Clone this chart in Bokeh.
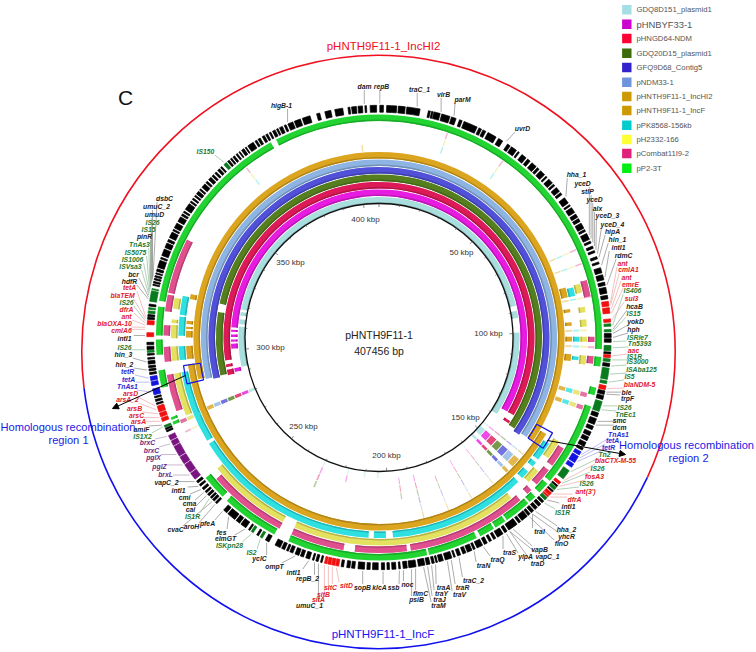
from math import sin, cos, radians, pi
from bokeh.plotting import figure
from bokeh.models import Arrow, NormalHead
from bokeh.core.properties import value
from bokeh.embed import file_html
from bokeh.resources import INLINE

# ---------- data ----------
genome_bp = 407456
legend_names = ["GDQ8D151_plasmid1", "pHNBYF33-1", "pHNGD64-NDM", "GDQ20D15_plasmid1", "GFQ9D68_Contig5", "pNDM33-1",
                "pHNTH9F11-1_IncHI2", "pHNTH9F11-1_IncF", "pPK8568-156kb", "pH2332-166", "pCombat11I9-2", "pP2-3T"]
legend_colors = ["#A5DEE4", "#CC00CC", "#FF0033", "#3B6B0B", "#3322CC", "#6F94DE",
                 "#CC9900", "#CC9900", "#00CCCC", "#FFFF33", "#E0217A", "#00EE11"]
ring_colors = ["#A8DEDE", "#E81CE0", "#DC1A58", "#557F1E", "#5050D8", "#8DB4E2",
               "#DBA520", "#DBA520", "#2FE0E0", "#E4E060", "#E0508F", "#22D432"]

# BLAST hit blocks per ring, in degrees clockwise from the map origin (values >360 wrap past the origin)
teal = [(258, 274.5), (275.5, 277.5), (279, 280.5), (281.5, 437), (439, 442), (448, 483)]
magenta = [(274, 480), (272.2, 273), (270.2, 271.2), (268.4, 269.2), (265.6, 267.6), (256.5, 258)]
crimson = [(261.5, 480), (259, 260), (256, 258), (482.5, 483.5)]
olive = [(256.5, 279), (282, 483.9)]
blue = [(256, 484.8)]
ltblue = [(256.5, 484)]
gold_hi2 = [(257, 484)]
gold_f = [(120, 262), (281.5, 283), (274, 275), (270, 272), (272.5, 273.2), (263.5, 267.5), (75, 78), (81.5, 82.5), (85.5, 86.5), (89.8, 91.2), (95, 97)]
cyan = [(122, 127.5), (128.5, 130), (132, 134.5), (136, 176), (178, 181.5), (183, 238), (239, 260),
        (263.5, 267.5), (270.5, 276), (276.5, 282), (75.5, 78), (89.8, 91.2), (95.5, 96.5)]
yellow = [(120, 125.5), (130, 134), (140.5, 204), (207.5, 231), (248, 260),
          (263.5, 267.5), (269.8, 273.5), (274, 275), (278, 281), (75, 77.5), (81.5, 83), (85, 87), (89.8, 91.2), (95, 97.5)]
pink = [(121, 126.5), (128, 133), (135, 136.5), (139, 171.5), (172.5, 186.5), (189.5, 204), (207.5, 229), (250, 260),
        (282, 297), (277, 281.5), (270.5, 273.3), (263.5, 267.5), (74.5, 79), (89.8, 91.2), (95, 97)]
green = [(279.5, 331), (332.5, 453), (270.5, 278), (265.5, 269.5), (257, 261.5), (95, 97.5), (103, 105), (108, 130), (131, 134),
         (135.5, 137.5), (138, 145), (145.5, 148.5), (149, 153), (154, 167), (167.5, 204), (208, 223), (224.5, 231), (247, 247.8), (248.3, 249)]
ring_blocks = [teal, magenta, crimson, olive, blue, ltblue, gold_hi2, gold_f, cyan, yellow, pink, green]

# faint thin hits: centre degree, width, first ring, last ring
strip_deg = [132.5, 136.2, 129, 142, 247.6, 203.5, 193, 186, 180.5, 172, 166, 158, 150, 244, 247, 66, 70, 105.5, 109, 18.5, 355, 35, 322, 92.6, 79, 88]
strip_width = [3.0, 1.0, 0.5, 0.3, 1.2, 0.6, 0.5, 0.6, 0.7, 0.4, 0.4, 0.3, 0.3, 0.5, 1.0, 0.4, 0.4, 1.2, 1.2, 0.4, 0.4, 0.4, 0.4, 0.6, 0.5, 0.6]
strip_first = [0, 0, 0, 0, 0, 0, 0, 0, 0, 1, 1, 2, 1, 7, 8, 7, 7, 7, 7, 8, 7, 8, 8, 7, 7, 7]
strip_last = [6, 6, 6, 6, 6, 3, 1, 0, 0, 3, 6, 6, 6, 10, 10, 10, 10, 10, 10, 10, 7, 10, 10, 10, 10, 9]

black_genes = [(0.2, 1.1), (1.9, 4.4), (4.8, 6.5), (6.9, 10.2), (12.3, 12.8), (13.1, 13.5), (13.7, 15.3), (15.7, 17.8), (18.2, 19.4), (20.3, 21),
               (21.5, 25), (25.5, 26.2), (26.6, 27.4), (28, 30.3), (31, 32.2), (33.6, 34.4), (34.8, 36.3), (36.8, 37.2), (38, 39.3), (39.8, 40.6),
               (41.2, 42.6), (43, 43.6), (44.1, 45.5), (46, 46.4), (47, 48.3), (48.7, 49.2), (49.8, 51), (51.4, 52), (53, 54.6), (55.1, 55.5),
               (56, 57.4), (57.9, 58.8), (59.2, 60), (60.5, 61.9), (62.3, 62.8), (63.4, 65), (65.5, 66), (66.8, 67.4), (68, 68.5), (69.6, 70.2),
               (71, 71.5), (72.5, 73.8), (74.3, 75.6), (76.2, 77), (77.5, 79), (79.5, 80.4), (89, 90), (90.3, 91.2), (93.6, 94.1), (96.4, 97.2),
               (103.3, 104.2), (104.5, 105.5), (109, 110), (110.5, 112), (112.5, 113.4), (114, 115), (115.4, 116.4), (116.9, 118), (118.4, 119),
               (129.6, 130), (131.3, 131.7), (134.8, 135.4), (135.8, 136.6), (137, 137.8), (138.2, 139), (139.4, 140), (140.3, 142), (142.4, 143),
               (143.5, 146), (146.5, 147.2), (147.7, 149.3), (149.8, 150.4), (151, 151.6), (152.2, 153), (153.5, 155), (155.5, 156), (156.4, 157.6),
               (158, 158.8), (159.4, 160.2), (160.8, 161.2), (161.7, 163.4), (163.9, 165), (165.4, 165.8), (166.2, 166.8), (167.3, 168.2), (168.6, 170.2),
               (170.8, 172.6), (173, 174), (174.7, 175.1), (175.8, 176.8), (177.4, 178), (178.6, 179.4), (180.2, 181.6), (182.2, 183), (183.6, 185.2),
               (186, 186.8), (187.2, 188), (188.8, 189.4), (194.2, 194.6), (195.2, 195.8), (196.3, 196.7), (197.4, 198.4), (199, 199.8), (200.2, 201.2),
               (201.8, 202.6), (203, 203.5), (204, 204.8), (205.2, 206.6), (208.3, 209.3), (211.3, 211.8), (213.8, 214.2), (215, 216.5), (216.9, 218),
               (218.4, 220.6), (221, 222), (224.3, 224.8), (225.2, 225.8), (226.1, 226.6), (227, 227.6), (228, 228.5), (229, 229.6), (230.2, 230.7),
               (231.2, 231.8), (246, 246.4), (246.6, 247), (253.2, 253.6), (254, 254.5), (254.9, 255.3), (260.8, 261.3), (261.7, 262.2), (262.5, 263),
               (263.4, 264.2), (264.6, 265), (265.6, 266), (267, 267.8), (268.2, 268.8), (274.5, 275), (275.2, 275.7), (277.8, 278.3), (283, 283.3),
               (283.6, 284), (284.4, 284.8), (285.1, 285.5), (285.9, 286.2), (286.6, 287.2), (287.6, 289.4), (289.8, 290.2), (290.7, 292.4), (292.8, 294),
               (294.4, 295), (295.5, 297), (297.4, 297.8), (298.2, 299.5), (300, 301.3), (301.7, 302.2), (302.6, 303), (303.5, 305.2), (305.6, 306),
               (306.5, 306.9), (307.4, 307.8), (308.2, 309), (309.4, 309.8), (310.3, 311.4), (311.8, 312.3), (312.8, 313.6), (314, 314.5), (315, 315.5),
               (316, 316.6), (317, 317.4), (319.3, 319.8), (320.2, 320.6), (321, 321.5), (322, 322.4), (322.9, 323.2), (323.7, 324.4), (324.8, 325.1),
               (325.6, 327.2), (327.7, 328.2), (328.6, 329.2), (329.8, 330.4), (330.8, 331.3), (331.8, 332.2), (332.7, 333.4), (333.8, 334.2), (334.6, 335.4),
               (335.9, 336.4), (336.9, 338.2), (338.6, 340.2), (340.7, 342.7), (344.4, 345.2), (346.5, 348), (349, 351), (352.3, 352.8), (353.2, 354.4),
               (354.8, 355.9), (356.5, 356.9), (357.8, 359.4)]
red_genes = [(81, 82.2), (82.6, 84), (85.4, 86.2), (94.3, 95), (102, 103), (128.5, 129.2), (132, 132.8), (133, 133.4), (190, 190.8), (191, 191.8),
             (192, 192.8), (193, 193.6), (248.8, 249.7), (250, 251), (251.3, 252.8), (270.2, 271.2), (273.2, 274.2)]
green_genes = [(86.6, 87.2), (88, 88.6), (92, 93.3), (95.3, 96), (97.6, 100.4), (100.8, 101.5), (106, 108.6), (125, 127.5), (130.2, 131), (133.6, 134.4),
               (210.2, 210.8), (212.8, 213.4), (247.2, 247.7), (266.3, 266.8), (276, 276.6), (277, 277.4), (279, 281.6), (281.9, 282.2), (318.1, 318.9)]
blue_genes = [(119.5, 120.4), (120.8, 122.6), (123, 124), (255.7, 257.2), (258, 259), (259.3, 260.3)]
purple_genes = [(232.4, 234.2), (234.5, 236.8), (237.1, 239), (239.3, 242), (242.3, 243.5), (243.8, 245)]

gene_names = ["IS150", "higB-1", "dam", "repB", "traC_1", "virB", "parM", "uvrD",
              "hha_1", "yceD", "stlP", "yceD", "alx", "yceD_3", "yceD_4", "hipA", "hin_1", "intI1", "rdmC",
              "ant", "cmlA1", "ant", "emrE", "IS406", "sul3", "hcaB", "IS15", "yokD", "hph", "ISRle7", "Tn5393",
              "aac", "IS1R", "IS3000", "ISAba125", "IS5", "blaNDM-5", "ble", "trpF", "IS26", "TnEc1", "smc", "dcm",
              "TnAs1", "tetA", "tetR", "Tn2", "blaCTX-M-55", "IS26", "fosA3", "IS26", "ant(3')", "dfrA", "intI1", "IS1R",
              "hha_2", "yhcR", "finO", "traI", "vapB", "vapC_1", "ylpA", "traD", "traS", "traQ", "traN", "traC_2", "traR", "traV",
              "traA", "traY", "traJ", "traM", "flmC", "psiB", "noc", "ssb", "klcA", "sopB", "sitD", "sitC", "sitB", "sitA", "umuC_1",
              "repB_2", "intI1", "ompT", "yclC", "IS2", "ISKpn28", "elmGT", "fes", "pfeA", "aroH", "cvaC", "IS1R", "cai", "cma", "cmi", "intI1", "vapC_2",
              "brxL", "pglZ", "pglX", "brxC", "brxC", "IS1X2", "amiF", "arsA", "arsC", "arsB", "arsA_2", "arsD", "TnAs1", "tetA", "tetR", "hin_2", "hin_3",
              "IS26", "intI1", "cmlA6", "blaOXA-10", "ant", "dfrA", "IS26", "blaTEM", "tetA", "hdfR", "bcr", "ISVsa3", "IS1006", "IS5075", "TnAs3", "pinR",
              "IS15", "IS26", "umuD", "umuC_2", "dsbC"]
gene_deg = [318.5, 337, 356.4, 0.2, 9.4, 15.4, 18.7, 33,
            53, 64, 65, 66, 67, 68, 69, 70, 72, 75, 77,
            81.5, 82, 83, 84, 87, 85.5, 88, 88.5, 89, 90, 91, 92.5,
            94.5, 95.5, 97, 99, 101, 102.6, 103.5, 104, 107, 108, 111, 112,
            120, 121, 122, 125, 127.6, 128.5, 129.5, 130.5, 132, 133, 134, 135,
            138, 139, 140, 139, 145, 146, 147, 146, 148, 153.5, 156, 160, 162, 163,
            166, 167, 168, 169, 171, 172, 174, 175, 179, 184, 190.5, 191.5, 192.5, 193.5, 195,
            196, 197.5, 201, 208.7, 210.5, 213, 215, 220, 222, 224.5, 225.5, 226.5, 227.5, 228.5, 229.5, 230.5, 232,
            234, 237, 240, 243, 245, 247.5, 248, 249, 250, 251, 252, 253, 256.5, 259, 260, 262, 264,
            267, 270.5, 272, 272.5, 273, 273.5, 274, 274.5, 275, 279.5, 280, 280.5, 281, 281.5, 282, 282.5,
            283, 283.5, 284, 284.5, 285]
label_xy = [(205, 151), (281, 105), (364, 86), (381, 86), (419, 89), (443, 94), (462, 99), (522, 128),
            (576, 174), (582, 183), (587, 191), (594, 199), (597, 208), (607, 215), (612, 224), (612, 231), (617, 239), (618, 247), (623, 255),
            (622, 263), (628, 269), (626, 277), (630, 284), (632, 290), (631, 298), (634, 306), (633, 313), (635, 321), (633, 329), (637, 337), (639, 343),
            (633, 350), (634, 356), (637, 361), (641, 369), (629, 376), (639, 384), (626, 392), (627, 398), (624, 407), (625, 414), (619, 420), (619, 427),
            (618, 434), (612, 440), (608, 447), (604, 454), (615, 460), (597, 468), (594, 476), (586, 483), (585, 491), (574, 499), (568, 506), (562, 512),
            (566, 529), (566, 536), (561, 543), (539, 531), (539, 549), (547, 556), (525, 556), (537, 563), (509, 552), (497, 559), (483, 565), (473, 580), (462, 587), (459, 594),
            (443, 587), (441, 593), (439, 599), (438, 605), (420, 593), (416, 599), (407, 584), (393, 587), (379, 587), (362, 587), (346, 585), (330, 587), (323, 594), (318, 599), (309, 605),
            (307, 578), (293, 572), (274, 566), (259, 558), (251, 552), (229, 545), (225, 538), (221, 532), (207, 523), (191, 526), (175, 529), (192, 516), (190, 509), (189, 503), (184, 497), (178, 490), (166, 482),
            (165, 474), (159, 466), (153, 457), (151, 450), (147, 442), (142, 436), (141, 429), (138, 421), (136, 415), (134, 408), (127, 399), (130, 393), (127, 386), (128, 379), (127, 371), (124, 364), (123, 354),
            (124, 347), (124, 338), (121, 330), (114, 323), (126, 316), (126, 309), (126, 302), (122, 295), (129, 287), (129, 281), (133, 274), (130, 266), (132, 259), (135, 252), (139, 244), (144, 236),
            (148, 229), (152, 222), (154, 214), (156, 206), (164, 198)]
green_names = {"IS150", "IS406", "IS15", "ISRle7", "Tn5393", "IS1R", "IS3000", "ISAba125", "IS5", "IS26", "TnEc1", "Tn2", "IS2", "ISKpn28", "IS1X2",
               "ISVsa3", "IS1006", "IS5075", "TnAs3"}
red_names = {"ant", "cmlA1", "emrE", "sul3", "aac", "blaNDM-5", "blaCTX-M-55", "fosA3", "ant(3')", "dfrA", "sitD", "sitC", "sitB", "sitA",
             "arsA", "arsC", "arsB", "arsA_2", "arsD", "cmlA6", "blaOXA-10", "blaTEM"}
blue_names = {"TnAs1", "tetR"}
purple_names = {"brxL", "pglZ", "pglX", "brxC"}

kbp_ticks = [50, 100, 150, 200, 250, 300, 350, 400]
kbp_label_xy = [(461, 252), (488, 333), (465, 417), (386, 455), (303, 426), (270, 347), (290, 262), (365, 219)]

# ---------- layout ----------
assert len(gene_names) == len(gene_deg) == len(label_xy), (len(gene_names), len(gene_deg), len(label_xy))
CX, CY = 378.5, 337
RING0, RING_STEP, RING_W = 137.3, 7.5, 6.6
GENE_R0, GENE_R1 = 225.3, 232.2
OCX, OCY, OR = 378, 351.5, 296.7
LAB = "Liberation Sans"
INK = {"k": "#222222", "g": "#1C7A30", "r": "#E0202A", "b": "#2A2AD0", "p": "#6E2A80"}
LEAD = {"k": "#888888", "g": "#8FBF98", "r": "#EDA6A6", "b": "#A0A0E6", "p": "#B49ABF"}

p = figure(width=756, height=652, x_range=(0, 756), y_range=(652, 0), toolbar_location=None, output_backend="svg",
           min_border=0, outline_line_color=None, margin=(0, 0, 0, 0))
p.axis.visible = False
p.grid.visible = False


def wedges(blocks, r0, r1, color, alpha=1.0, line=None, bleed=0):
    start = [pi / 2 - radians(b) for a, b in blocks]
    end = [pi / 2 - radians(a) for a, b in blocks]
    n = len(blocks)
    if line:
        p.annular_wedge(x=[CX] * n, y=[CY] * n, inner_radius=r0, outer_radius=r1, start_angle=start, end_angle=end,
                        fill_color=None, line_color=line, line_width=1.2)
    elif bleed:
        p.annular_wedge(x=[CX] * n, y=[CY] * n, inner_radius=r0, outer_radius=r1, start_angle=start, end_angle=end,
                        fill_color=color, fill_alpha=alpha, line_color=color, line_width=bleed)
    else:
        p.annular_wedge(x=[CX] * n, y=[CY] * n, inner_radius=r0, outer_radius=r1, start_angle=start, end_angle=end,
                        fill_color=color, fill_alpha=alpha, line_color=None)


def shade(c, f):
    r, g, b = int(c[1:3], 16), int(c[3:5], 16), int(c[5:7], 16)
    return "#%02X%02X%02X" % (int(r * f), int(g * f), int(b * f))


# outer red / blue circle
red_arc = [(263, 475)]
blue_arc = [(115, 263)]
for arc, col in [(red_arc, "#F01020"), (blue_arc, "#1010F0")]:
    p.arc(x=[OCX], y=[OCY], radius=OR, start_angle=[pi / 2 - radians(arc[0][1])], end_angle=[pi / 2 - radians(arc[0][0])],
          line_color=col, line_width=1.6)

# BLAST rings
for i, blocks in enumerate(ring_blocks):
    r = RING0 + RING_STEP * i
    wedges(blocks, r - RING_W / 2, r + RING_W / 2, ring_colors[i])
    wedges(blocks, r - RING_W / 2, r - RING_W / 2 + 1.4, shade(ring_colors[i], 0.8))

# faint strips
for d, w, a, b in zip(strip_deg, strip_width, strip_first, strip_last):
    for i in range(a, b + 1):
        r = RING0 + RING_STEP * i
        wedges([(d - w / 2, d + w / 2)], r - RING_W / 2, r + RING_W / 2, ring_colors[i], alpha=0.8 if w > 0.9 else 0.4)

# gene track
for blocks, col in [(black_genes, "#000000"), (red_genes, "#F01010"), (green_genes, "#0A7A1E"), (blue_genes, "#1414E0"), (purple_genes, "#7A1480")]:
    wedges(blocks, GENE_R0, GENE_R1, col, bleed=0.7)

# backbone circle and ticks
p.circle(x=[CX], y=[CY], radius=134, fill_color=None, line_color="#111111", line_width=1.3)
tick_kb = list(range(0, 407, 10))
tx0, ty0, tx1, ty1 = [], [], [], []
for kb in tick_kb:
    a = radians(kb * 1000 / genome_bp * 360)
    rin = 130.5 if kb % 50 == 0 else 132
    tx0.append(CX + rin * sin(a)); ty0.append(CY - rin * cos(a))
    tx1.append(CX + 134 * sin(a)); ty1.append(CY - 134 * cos(a))
p.segment(tx0, ty0, tx1, ty1, line_color="#555555", line_width=0.7)
p.text(x=[q[0] for q in kbp_label_xy], y=[q[1] for q in kbp_label_xy], text=[f"{k} kbp" for k in kbp_ticks],
       text_font=value(LAB), text_font_size="8px", text_color="#333333", text_align="center", text_baseline="middle")

# leaders and gene labels
x0, y0, x1, y1, lc, tc = [], [], [], [], [], []
for name, deg, (lx, ly) in zip(gene_names, gene_deg, label_xy):
    k = "k"
    if name in green_names: k = "g"
    if name in red_names: k = "r"
    if name in blue_names: k = "b"
    if name in purple_names: k = "p"
    if name == "tetA":
        k = "b" if ly > 300 else "r"
    a = radians(deg)
    rx, ry = CX + 234 * sin(a), CY - 234 * cos(a)
    hw, hh = len(name) * 1.85, 3.5
    x0.append(lx + max(-hw, min(hw, rx - lx))); y0.append(ly + max(-hh, min(hh, ry - ly)))
    x1.append(rx); y1.append(ry)
    lc.append(LEAD[k]); tc.append(INK[k])
p.segment(x0, y0, x1, y1, line_color=lc, line_width=0.7)
p.text(x=[q[0] for q in label_xy], y=[q[1] for q in label_xy], text=gene_names, text_color=tc,
       text_font=value(LAB), text_font_size="6.8px", text_font_style="bold italic", text_align="center", text_baseline="middle")

# recombination boxes
box1 = [(256.4, 261.8)]
box2 = [(118.8, 124)]
wedges(box1, 180.5, 197.5, None, line="#1414E0")
wedges(box2, 180, 198, None, line="#1414E0")
p.add_layout(Arrow(end=NormalHead(size=6, fill_color="#000000", line_color="#000000"), x_start=185, y_start=375, x_end=112, y_end=408,
                   line_color="#000000", line_width=1))
p.add_layout(Arrow(end=NormalHead(size=6, fill_color="#000000", line_color="#000000"), x_start=547, y_start=440, x_end=625, y_end=454,
                   line_color="#000000", line_width=1))

# free texts
p.text(x=[378.5, 378.5], y=[334, 350], text=["pHNTH9F11-1", "407456 bp"], text_font=value(LAB), text_font_size="10.5px", text_color="#222222",
       text_align="center", text_baseline="middle")
p.text(x=[383, 382.5], y=[45, 633], text=["pHNTH9F11-1_IncHI2", "pHNTH9F11-1_IncF"], text_color=["#F01020", "#1414F0"], text_font=value(LAB),
       text_font_size="11.5px", text_align="center", text_baseline="middle")
p.text(x=[125], y=[97], text=["C"], text_font=value(LAB), text_font_size="21px", text_color="#111111", text_align="center", text_baseline="middle")
p.text(x=[67.5, 68, 686, 688], y=[426, 439, 444, 457],
       text=["Homologous recombination", "region 1", "Homologous recombination", "region 2"], text_color="#1A1AE6", text_font=value(LAB),
       text_font_size="11.1px", text_align="center", text_baseline="middle")

# legend
ly = [9.3, 23.7, 38, 52.7, 67, 81.7, 96, 110, 124.7, 139, 153, 167.7]
p.rect(x=[626.3] * 12, y=ly, width=9.4, height=9.4, fill_color=legend_colors, line_color=None)
p.text(x=[636] * 12, y=ly, text=legend_names, text_font=value(LAB),
       text_font_size=["7.7px", "9.4px"] + ["7.7px"] * 10, text_color="#555555", text_align="left", text_baseline="middle")

open("out.html", "w").write(file_html(p, INLINE))
